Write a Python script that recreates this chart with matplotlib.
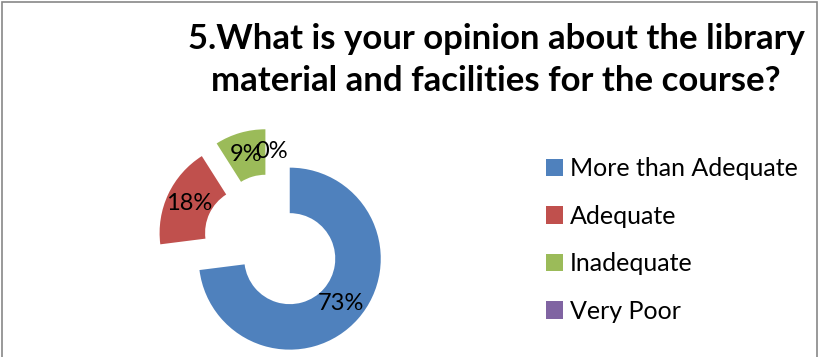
import matplotlib.pyplot as plt
from matplotlib.patches import Rectangle

# survey answers, in percent
categories = ["More than Adequate", "Adequate", "Inadequate", "Very Poor"]
shares = [73, 18, 9, 0]
colors = ["#4F81BD", "#C0504D", "#9BBB59", "#8064A2"]
title = "5.What is your opinion about the library\nmaterial and facilities for the course?"

plt.rcParams["font.family"] = ["Lato", "DejaVu Sans"]

W, H = 820, 357
fig = plt.figure(figsize=(W / 100, H / 100), dpi=100)

# grey chart frame (bottom edge is cut off in the original)
fig.patches.append(Rectangle((2 / W, -0.05), (W - 5) / W, 1.05 - 2 / H,
                             transform=fig.transFigure, fill=False,
                             edgecolor="#878787", linewidth=1.2))

# pie axes: 91 px per data unit, centre at (272, 243) from top-left
scale = 91.0
cx, cy = 272.0, H - 243.0
left, right, bottom, top = 120.0, 430.0, 2.0, 235.0
ax = fig.add_axes([left / W, bottom / H, (right - left) / W, (top - bottom) / H])

wedges, texts, autotexts = ax.pie(
    shares, colors=colors, startangle=90, counterclock=False,
    explode=[0.26] * len(shares), radius=1.0,
    wedgeprops=dict(width=0.5, linewidth=0),
    autopct="%.0f%%", pctdistance=0.75,
    textprops=dict(fontsize=17, color="black"))

ax.set_aspect("auto")
ax.set_xlim((left - cx) / scale, (right - cx) / scale)
ax.set_ylim((bottom - cy) / scale, (top - cy) / scale)
ax.axis("off")

fig.text(496 / W, 1 - 60 / H, title, ha="center", va="center",
         fontsize=25, fontweight="bold", linespacing=1.42)

fig.legend(wedges, categories, loc="center left",
           bbox_to_anchor=(533 / W, 1 - 240 / H), frameon=False,
           fontsize=18, handlelength=0.68, handleheight=0.68,
           handletextpad=0.28, labelspacing=0.98, borderpad=0)

fig.savefig("out.png", dpi=100)
